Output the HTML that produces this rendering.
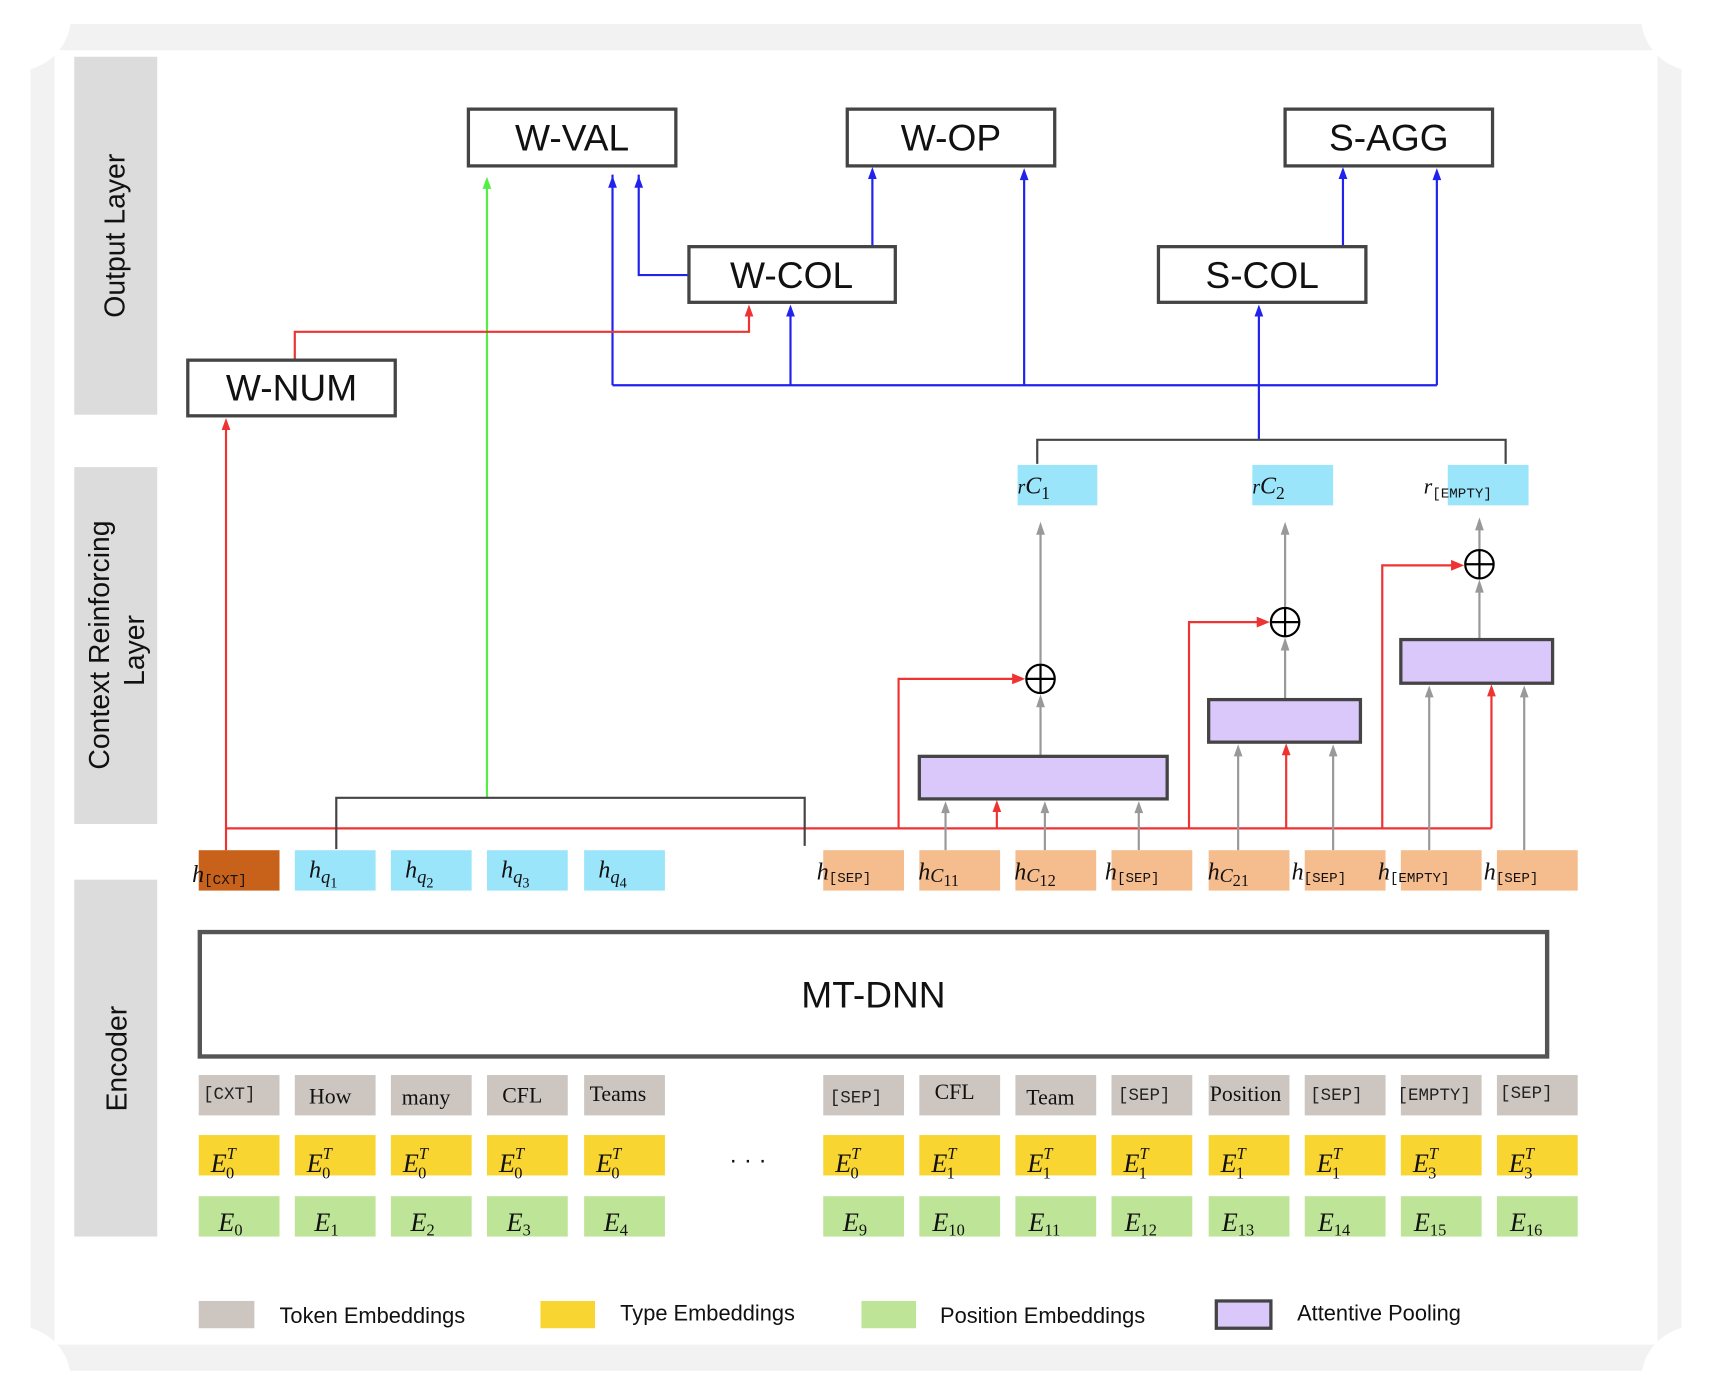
<!DOCTYPE html>
<html><head><meta charset="utf-8"><style>html,body{margin:0;padding:0;background:#fff}svg{display:block}</style></head>
<body>
<svg width="1712" height="1397" viewBox="0 0 1568 1280" preserveAspectRatio="none" xmlns="http://www.w3.org/2000/svg" font-family="Liberation Sans, sans-serif">
<rect x="0" y="0" width="1568" height="1280" fill="#fff"/>
<rect x="28" y="22" width="1512" height="1234" fill="#f2f2f2"/>
<rect x="50" y="46" width="1468" height="1186" fill="#fff"/>
<circle cx="15" cy="15" r="50" fill="#fff"/><circle cx="1553" cy="15" r="50" fill="#fff"/>
<circle cx="15" cy="1265" r="50" fill="#fff"/><circle cx="1553" cy="1265" r="50" fill="#fff"/>

<rect x="68" y="52" width="76" height="328" fill="#dcdcdc"/>
<rect x="68" y="428" width="76" height="327" fill="#dcdcdc"/>
<rect x="68" y="806" width="76" height="327" fill="#dcdcdc"/>
<text transform="translate(114,216) rotate(-90)" text-anchor="middle" font-size="26" fill="#111">Output Layer</text>
<text transform="translate(100,591) rotate(-90)" text-anchor="middle" font-size="26" fill="#111">Context Reinforcing</text>
<text transform="translate(132,596) rotate(-90)" text-anchor="middle" font-size="26" fill="#111">Layer</text>
<text transform="translate(116,970) rotate(-90)" text-anchor="middle" font-size="26" fill="#111">Encoder</text>

<g stroke="#2222ee" stroke-width="2" fill="none">
<polyline points="561,353 1316,353"/>
<line x1="561" y1="353" x2="561" y2="160"/>
<line x1="724" y1="353" x2="724" y2="282"/>
<line x1="938" y1="353" x2="938" y2="158"/>
<line x1="1316" y1="353" x2="1316" y2="158"/>
<line x1="1153" y1="403" x2="1153" y2="282"/>
<polyline points="631,252 585,252 585,160"/>
<line x1="799" y1="226" x2="799" y2="156"/>
<line x1="1230" y1="226" x2="1230" y2="156"/>
</g>
<line x1="446" y1="731" x2="446" y2="165" stroke="#55ee44" stroke-width="2"/>
<g stroke="#ee3333" stroke-width="2" fill="none">
<line x1="207" y1="779" x2="207" y2="386"/>
<polyline points="270,330 270,304 686,304 686,282"/>
<line x1="207" y1="759" x2="1366" y2="759"/>
<polyline points="823,759 823,622 936,622"/>
<line x1="913" y1="759" x2="913" y2="736"/>
<polyline points="1089,759 1089,570 1160,570"/>
<line x1="1178" y1="759" x2="1178" y2="684"/>
<polyline points="1266,759 1266,518 1338,518"/>
<line x1="1366" y1="759" x2="1366" y2="630"/>
</g>
<g stroke="#444" stroke-width="2" fill="none">
<polyline points="308,778 308,731 737,731 737,775"/>
<polyline points="950,425 950,403 1379,403 1379,425"/>
</g>
<g stroke="#999" stroke-width="2" fill="none">
<line x1="866" y1="779" x2="866" y2="740"/>
<line x1="957" y1="779" x2="957" y2="740"/>
<line x1="1043" y1="779" x2="1043" y2="740"/>
<line x1="1134" y1="779" x2="1134" y2="688"/>
<line x1="1221" y1="779" x2="1221" y2="688"/>
<line x1="1309" y1="779" x2="1309" y2="634"/>
<line x1="1396" y1="779" x2="1396" y2="634"/>
<line x1="953" y1="692" x2="953" y2="644"/>
<line x1="953" y1="608" x2="953" y2="486"/>
<line x1="1177" y1="640" x2="1177" y2="592"/>
<line x1="1177" y1="556" x2="1177" y2="486"/>
<line x1="1355" y1="585" x2="1355" y2="539"/>
<line x1="1355" y1="503" x2="1355" y2="482"/>
</g>
<g stroke="#000" stroke-width="2" fill="#fff">
<circle cx="953" cy="622" r="13"/><circle cx="1177" cy="570" r="13"/><circle cx="1355" cy="517" r="13"/>
<path d="M940,622h26M953,609v26M1164,570h26M1177,557v26M1342,517h26M1355,504v26" fill="none"/>
</g>
<g fill="#dac8fb" stroke="#444" stroke-width="3">
<rect x="842" y="693" width="227" height="39"/>
<rect x="1107" y="641" width="139" height="39"/>
<rect x="1283" y="586" width="139" height="40"/>
</g>
<g fill="#fff" stroke="#444" stroke-width="3">
<rect x="429" y="100" width="190" height="52"/>
<rect x="776" y="100" width="190" height="52"/>
<rect x="1177" y="100" width="190" height="52"/>
<rect x="631" y="226" width="189" height="51"/>
<rect x="1061" y="226" width="190" height="51"/>
<rect x="172" y="330" width="190" height="51"/>
</g>
<g font-size="34" text-anchor="middle" fill="#111">
<text x="524" y="138">W-VAL</text><text x="871" y="138">W-OP</text><text x="1272" y="138">S-AGG</text>
<text x="725" y="264">W-COL</text><text x="1156" y="264">S-COL</text><text x="267" y="367">W-NUM</text>
</g>
<!-- arrowheads -->
<g fill="#2222ee">
<polygon points="557,172 561,161 565,172"/><polygon points="720,290 724,279 728,290"/><polygon points="934,165 938,154 942,165"/>
<polygon points="1312,165 1316,154 1320,165"/><polygon points="1149,290 1153,279 1157,290"/><polygon points="581,172 585,161 589,172"/>
<polygon points="795,164 799,153 803,164"/><polygon points="1226,164 1230,153 1234,164"/>
</g>
<polygon points="442,173 446,162 450,173" fill="#55ee44"/>
<g fill="#ee3333">
<polygon points="203,394 207,383 211,394"/><polygon points="682,290 686,279 690,290"/><polygon points="909,744 913,733 917,744"/>
<polygon points="1174,692 1178,681 1182,692"/><polygon points="1362,638 1366,627 1370,638"/>
<polygon points="927,617 939,622 927,627"/><polygon points="1151,565 1163,570 1151,575"/><polygon points="1329,513 1341,518 1329,523"/>
</g>
<g fill="#999">
<polygon points="862,745 866,734 870,745"/><polygon points="953,745 957,734 961,745"/><polygon points="1039,745 1043,734 1047,745"/>
<polygon points="1130,693 1134,682 1138,693"/><polygon points="1217,693 1221,682 1225,693"/>
<polygon points="1305,639 1309,628 1313,639"/><polygon points="1392,639 1396,628 1400,639"/>
<polygon points="949,648 953,636 957,648"/><polygon points="949,490 953,478 957,490"/>
<polygon points="1173,596 1177,584 1181,596"/><polygon points="1173,490 1177,478 1181,490"/>
<polygon points="1351,543 1355,531 1359,543"/><polygon points="1351,486 1355,474 1359,486"/>
</g>
<g fill="#9be5fa">
<rect x="932" y="426" width="73" height="37"/><rect x="1147" y="426" width="74" height="37"/><rect x="1326" y="426" width="74" height="37"/>
</g>
<g font-family="Liberation Serif, serif" font-style="italic" fill="#111">
<text x="932" y="452" font-size="18">r<tspan font-size="22">C</tspan><tspan font-size="16" dy="5" font-style="normal">1</tspan></text>
<text x="1147" y="452" font-size="18">r<tspan font-size="22">C</tspan><tspan font-size="16" dy="5" font-style="normal">2</tspan></text>
<text x="1304" y="452" font-size="20">r<tspan font-family="Liberation Mono, monospace" font-style="normal" font-size="13" dy="4">[EMPTY]</tspan></text>
</g>
<rect x="182" y="779" width="74" height="37" fill="#c8621a"/>
<g fill="#9be5fa"><rect x="270" y="779" width="74" height="37"/><rect x="358" y="779" width="74" height="37"/><rect x="446" y="779" width="74" height="37"/><rect x="535" y="779" width="74" height="37"/></g>
<g fill="#f5bc8e">
<rect x="754" y="779" width="74" height="37"/><rect x="842" y="779" width="74" height="37"/><rect x="930" y="779" width="74" height="37"/><rect x="1018" y="779" width="74" height="37"/>
<rect x="1107" y="779" width="74" height="37"/><rect x="1195" y="779" width="74" height="37"/><rect x="1283" y="779" width="74" height="37"/><rect x="1371" y="779" width="74" height="37"/>
</g>
<g font-family="Liberation Serif, serif" font-style="italic" fill="#111" font-size="22">
<text x="176" y="808">h<tspan font-family="Liberation Mono, monospace" font-style="normal" font-size="13" dy="2">[CXT]</tspan></text>
<text x="283" y="804">h<tspan font-size="17" dy="5">q</tspan><tspan font-size="13" font-style="normal" dy="4">1</tspan></text>
<text x="371" y="804">h<tspan font-size="17" dy="5">q</tspan><tspan font-size="13" font-style="normal" dy="4">2</tspan></text>
<text x="459" y="804">h<tspan font-size="17" dy="5">q</tspan><tspan font-size="13" font-style="normal" dy="4">3</tspan></text>
<text x="548" y="804">h<tspan font-size="17" dy="5">q</tspan><tspan font-size="13" font-style="normal" dy="4">4</tspan></text>
<text x="748" y="806">h<tspan font-family="Liberation Mono, monospace" font-style="normal" font-size="13" dy="2">[SEP]</tspan></text>
<text x="841" y="806">h<tspan font-size="18" dy="2">C</tspan><tspan font-size="15" font-style="normal" dy="4">11</tspan></text>
<text x="929" y="806">h<tspan font-size="18" dy="2">C</tspan><tspan font-size="15" font-style="normal" dy="4">12</tspan></text>
<text x="1012" y="806">h<tspan font-family="Liberation Mono, monospace" font-style="normal" font-size="13" dy="2">[SEP]</tspan></text>
<text x="1106" y="806">h<tspan font-size="18" dy="2">C</tspan><tspan font-size="15" font-style="normal" dy="4">21</tspan></text>
<text x="1183" y="806">h<tspan font-family="Liberation Mono, monospace" font-style="normal" font-size="13" dy="2">[SEP]</tspan></text>
<text x="1262" y="806">h<tspan font-family="Liberation Mono, monospace" font-style="normal" font-size="13" dy="2">[EMPTY]</tspan></text>
<text x="1359" y="806">h<tspan font-family="Liberation Mono, monospace" font-style="normal" font-size="13" dy="2">[SEP]</tspan></text>
</g>
<rect x="183" y="854" width="1234" height="114" fill="#fff" stroke="#555" stroke-width="4"/>
<text x="800" y="923" font-size="34" text-anchor="middle" fill="#111">MT-DNN</text>
<g fill="#cdc6c0">
<rect x="182" y="985" width="74" height="37"/><rect x="270" y="985" width="74" height="37"/><rect x="358" y="985" width="74" height="37"/><rect x="446" y="985" width="74" height="37"/><rect x="535" y="985" width="74" height="37"/>
<rect x="754" y="985" width="74" height="37"/><rect x="842" y="985" width="74" height="37"/><rect x="930" y="985" width="74" height="37"/><rect x="1018" y="985" width="74" height="37"/><rect x="1107" y="985" width="74" height="37"/><rect x="1195" y="985" width="74" height="37"/><rect x="1283" y="985" width="74" height="37"/><rect x="1371" y="985" width="74" height="37"/>
</g>
<g fill="#f9d532">
<rect x="182" y="1040" width="74" height="37"/><rect x="270" y="1040" width="74" height="37"/><rect x="358" y="1040" width="74" height="37"/><rect x="446" y="1040" width="74" height="37"/><rect x="535" y="1040" width="74" height="37"/>
<rect x="754" y="1040" width="74" height="37"/><rect x="842" y="1040" width="74" height="37"/><rect x="930" y="1040" width="74" height="37"/><rect x="1018" y="1040" width="74" height="37"/><rect x="1107" y="1040" width="74" height="37"/><rect x="1195" y="1040" width="74" height="37"/><rect x="1283" y="1040" width="74" height="37"/><rect x="1371" y="1040" width="74" height="37"/>
</g>
<g fill="#bde497">
<rect x="182" y="1096" width="74" height="37"/><rect x="270" y="1096" width="74" height="37"/><rect x="358" y="1096" width="74" height="37"/><rect x="446" y="1096" width="74" height="37"/><rect x="535" y="1096" width="74" height="37"/>
<rect x="754" y="1096" width="74" height="37"/><rect x="842" y="1096" width="74" height="37"/><rect x="930" y="1096" width="74" height="37"/><rect x="1018" y="1096" width="74" height="37"/><rect x="1107" y="1096" width="74" height="37"/><rect x="1195" y="1096" width="74" height="37"/><rect x="1283" y="1096" width="74" height="37"/><rect x="1371" y="1096" width="74" height="37"/>
</g>
<g font-family="Liberation Mono, monospace" font-size="16" fill="#222">
<text x="186" y="1007">[CXT]</text><text x="760" y="1010">[SEP]</text><text x="1024" y="1008">[SEP]</text><text x="1200" y="1008">[SEP]</text><text x="1280" y="1008">[EMPTY]</text><text x="1374" y="1006">[SEP]</text>
</g>
<g font-family="Liberation Serif, serif" font-size="20" fill="#111">
<text x="283" y="1011">How</text><text x="368" y="1012">many</text><text x="460" y="1010">CFL</text><text x="540" y="1009">Teams</text>
<text x="856" y="1007">CFL</text><text x="940" y="1012">Team</text><text x="1108" y="1009">Position</text>
</g>
<g font-family="Liberation Serif, serif" font-style="italic" font-size="24" fill="#111">
<text x="193" y="1074">E<tspan font-size="15" dy="-12">T</tspan><tspan font-size="15" font-style="normal" dx="-9" dy="18">0</tspan></text>
<text x="281" y="1074">E<tspan font-size="15" dy="-12">T</tspan><tspan font-size="15" font-style="normal" dx="-9" dy="18">0</tspan></text>
<text x="369" y="1074">E<tspan font-size="15" dy="-12">T</tspan><tspan font-size="15" font-style="normal" dx="-9" dy="18">0</tspan></text>
<text x="457" y="1074">E<tspan font-size="15" dy="-12">T</tspan><tspan font-size="15" font-style="normal" dx="-9" dy="18">0</tspan></text>
<text x="546" y="1074">E<tspan font-size="15" dy="-12">T</tspan><tspan font-size="15" font-style="normal" dx="-9" dy="18">0</tspan></text>
<text x="765" y="1074">E<tspan font-size="15" dy="-12">T</tspan><tspan font-size="15" font-style="normal" dx="-9" dy="18">0</tspan></text>
<text x="853" y="1074">E<tspan font-size="15" dy="-12">T</tspan><tspan font-size="15" font-style="normal" dx="-9" dy="18">1</tspan></text>
<text x="941" y="1074">E<tspan font-size="15" dy="-12">T</tspan><tspan font-size="15" font-style="normal" dx="-9" dy="18">1</tspan></text>
<text x="1029" y="1074">E<tspan font-size="15" dy="-12">T</tspan><tspan font-size="15" font-style="normal" dx="-9" dy="18">1</tspan></text>
<text x="1118" y="1074">E<tspan font-size="15" dy="-12">T</tspan><tspan font-size="15" font-style="normal" dx="-9" dy="18">1</tspan></text>
<text x="1206" y="1074">E<tspan font-size="15" dy="-12">T</tspan><tspan font-size="15" font-style="normal" dx="-9" dy="18">1</tspan></text>
<text x="1294" y="1074">E<tspan font-size="15" dy="-12">T</tspan><tspan font-size="15" font-style="normal" dx="-9" dy="18">3</tspan></text>
<text x="1382" y="1074">E<tspan font-size="15" dy="-12">T</tspan><tspan font-size="15" font-style="normal" dx="-9" dy="18">3</tspan></text>
<text x="200" y="1128">E<tspan font-size="15" font-style="normal" dy="4">0</tspan></text>
<text x="288" y="1128">E<tspan font-size="15" font-style="normal" dy="4">1</tspan></text>
<text x="376" y="1128">E<tspan font-size="15" font-style="normal" dy="4">2</tspan></text>
<text x="464" y="1128">E<tspan font-size="15" font-style="normal" dy="4">3</tspan></text>
<text x="553" y="1128">E<tspan font-size="15" font-style="normal" dy="4">4</tspan></text>
<text x="772" y="1128">E<tspan font-size="15" font-style="normal" dy="4">9</tspan></text>
<text x="854" y="1128">E<tspan font-size="15" font-style="normal" dy="4">10</tspan></text>
<text x="942" y="1128">E<tspan font-size="15" font-style="normal" dy="4">11</tspan></text>
<text x="1030" y="1128">E<tspan font-size="15" font-style="normal" dy="4">12</tspan></text>
<text x="1119" y="1128">E<tspan font-size="15" font-style="normal" dy="4">13</tspan></text>
<text x="1207" y="1128">E<tspan font-size="15" font-style="normal" dy="4">14</tspan></text>
<text x="1295" y="1128">E<tspan font-size="15" font-style="normal" dy="4">15</tspan></text>
<text x="1383" y="1128">E<tspan font-size="15" font-style="normal" dy="4">16</tspan></text>
</g>
<text x="685" y="1070" font-size="22" text-anchor="middle" fill="#111">· · ·</text>
<rect x="182" y="1192" width="51" height="25" fill="#cdc6c0"/>
<rect x="495" y="1192" width="50" height="25" fill="#f9d532"/>
<rect x="789" y="1192" width="50" height="25" fill="#bde497"/>
<rect x="1114" y="1192" width="50" height="25" fill="#dac8fb" stroke="#444" stroke-width="3"/>
<g font-size="20" fill="#111">
<text x="256" y="1212">Token Embeddings</text>
<text x="568" y="1210">Type Embeddings</text>
<text x="861" y="1212">Position Embeddings</text>
<text x="1188" y="1210">Attentive Pooling</text>
</g>
</svg>
</body></html>
